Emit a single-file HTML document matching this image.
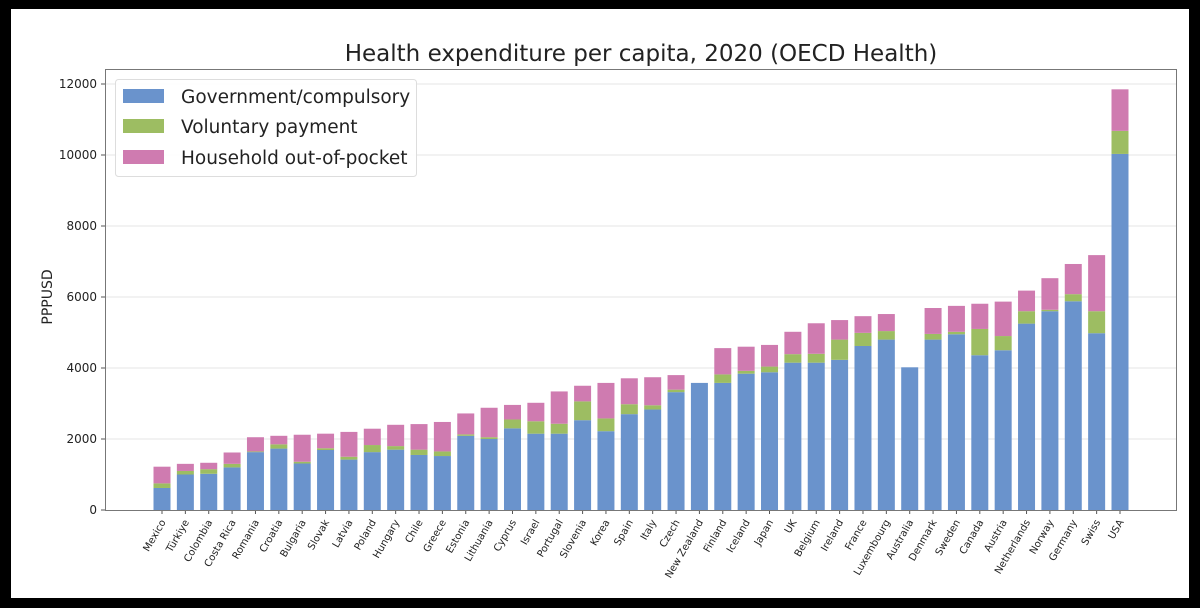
<!DOCTYPE html>
<html><head><meta charset="utf-8"><style>
html,body{margin:0;padding:0;background:#000;}
svg{display:block;font-family:"DejaVu Sans","Liberation Sans",sans-serif;}
</style></head><body>
<svg id="chart" width="1200" height="608">
<rect x="11" y="9" width="1178" height="589" fill="#fff"/>
<text x="641" y="61" text-anchor="middle" font-size="23" fill="#222">Health expenditure per capita, 2020 (OECD Health)</text>
<g id="grid"></g>
<g id="bars"></g>
<g id="axes"></g>
<text transform="translate(52,297) rotate(-90)" text-anchor="middle" font-size="14" fill="#222">PPPUSD</text>
<g>
<rect x="115.5" y="79.5" width="301" height="97" rx="3" fill="#fff" fill-opacity="0.9" stroke="#ddd"/>
<rect x="123" y="89" width="41" height="14" fill="#6a93cc"/>
<text x="181" y="103" font-size="18.5" fill="#222">Government/compulsory</text>
<rect x="123" y="119" width="41" height="14" fill="#9dbd62"/>
<text x="181" y="133" font-size="18.5" fill="#222">Voluntary payment</text>
<rect x="123" y="150" width="41" height="14" fill="#cf7bb0"/>
<text x="181" y="164" font-size="18.5" fill="#222">Household out-of-pocket</text>
</g>
</svg>
<script>
const countries=["Mexico","Türkiye","Colombia","Costa Rica","Romania","Croatia","Bulgaria","Slovak","Latvia","Poland","Hungary","Chile","Greece","Estonia","Lithuania","Cyprus","Israel","Portugal","Slovenia","Korea","Spain","Italy","Czech","New Zealand","Finland","Iceland","Japan","UK","Belgium","Ireland","France","Luxembourg","Australia","Denmark","Sweden","Canada","Austria","Netherlands","Norway","Germany","Swiss","USA"];
const government=[620,1000,1020,1200,1630,1730,1310,1690,1420,1630,1700,1550,1520,2090,2000,2300,2150,2150,2530,2220,2700,2830,3320,3580,3580,3840,3880,4150,4150,4230,4620,4800,4020,4800,4950,4360,4500,5250,5600,5880,4980,10030];
const voluntary=[130,100,130,100,20,120,50,50,80,200,100,150,130,40,50,250,350,280,530,360,280,120,70,0,240,80,160,240,250,570,370,240,0,160,70,740,400,350,40,200,620,650];
const outOfPocket=[470,200,180,320,400,240,760,410,700,460,600,720,830,590,830,410,520,910,440,1000,730,790,410,0,740,680,610,630,860,550,470,480,0,730,730,710,970,580,890,850,1580,1170];
const yTicks=[0,2000,4000,6000,8000,10000,12000];
</script>
<script>
const NS="http://www.w3.org/2000/svg";
const X0=105,X1=1176,Y0=510,YTOP=69;
const first=162,step=(1120-162)/(countries.length-1),bw=17;
function xPos(i){return first+i*step;}
function yPos(v){return Y0-v*0.0355;}
function mk(tag,attrs,parent){const e=document.createElementNS(NS,tag);for(const k in attrs)e.setAttribute(k,attrs[k]);parent.appendChild(e);return e;}
const grid=document.getElementById('grid'),bars=document.getElementById('bars'),axes=document.getElementById('axes');
yTicks.forEach(t=>{
  const y=yPos(t);
  if(t>0){const g=mk('line',{x1:X0,x2:X1,y1:y,y2:y,stroke:'#e6e6e6','stroke-width':1},grid);
  
  }
  const tk=mk('line',{x1:X0-4,x2:X0,y1:y,y2:y,stroke:'#555'},axes);
  
  
  const lb=mk('text',{x:X0-8,y:y+4,'text-anchor':'end','font-size':12,fill:'#222'},axes);
  lb.textContent=t;
  
  
});
const cols=['#6a93cc','#9dbd62','#cf7bb0'];
countries.forEach((c,i)=>{
  const x=xPos(i)-bw/2;
  const segs=[government[i],voluntary[i],outOfPocket[i]];
  const names=['government','voluntary','out-of-pocket'];
  let base=0;
  segs.forEach((v,k)=>{
    if(v>0){
      const r=mk('rect',{x:x,y:yPos(base+v),width:bw,height:yPos(base)-yPos(base+v),fill:cols[k]},bars);
      
      
    }
    base+=v;
  });
  const tk=mk('line',{x1:xPos(i),x2:xPos(i),y1:Y0,y2:Y0+4,stroke:'#555'},axes);
  
  
  const lb=mk('text',{transform:'translate('+(xPos(i)+4)+','+(Y0+12)+') rotate(-60)','text-anchor':'end','font-size':10,fill:'#222'},axes);
  lb.textContent=c;
  
  
});
const fr=mk('rect',{x:X0+0.5,y:YTOP+0.5,width:X1-X0,height:Y0-YTOP,fill:'none',stroke:'#777','stroke-width':1},axes);


</script>
</body></html>
